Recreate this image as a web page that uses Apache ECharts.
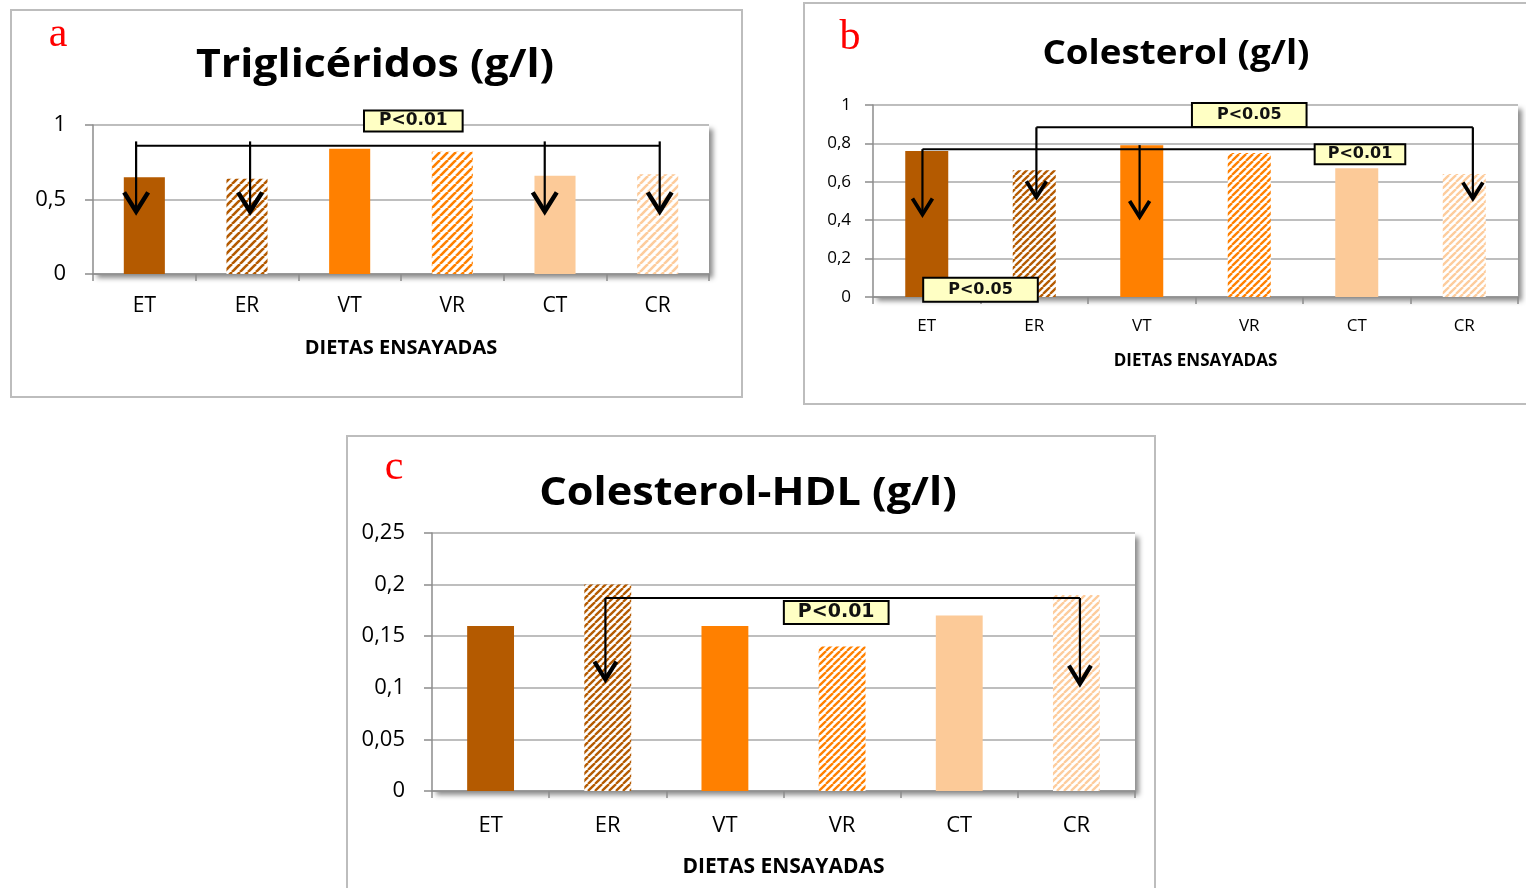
<!DOCTYPE html>
<html>
<head>
<meta charset="utf-8">
<script src="https://cdn.jsdelivr.net/npm/echarts@6/dist/echarts.min.js"></script>
<style>
html, body { margin: 0; padding: 0; background: #fff; }
#main { width: 1526px; height: 888px; }
</style>
</head>
<body>
<div id="main"></div>
<script>
// datos
var categories = ['ET', 'ER', 'VT', 'VR', 'CT', 'CR'];
var trigliceridos = [0.65, 0.64, 0.84, 0.82, 0.66, 0.67];
var colesterol = [0.76, 0.66, 0.79, 0.75, 0.67, 0.64];
var colesterolHdl = [0.16, 0.20, 0.16, 0.14, 0.17, 0.19];
var xAxisName = 'DIETAS ENSAYADAS';

// anotaciones (posicion en indice de categoria / valor del eje)
var bracketsA = [{from: -0.08, to: 5.02, y: 0.86,
    arrows: [[-0.08, 0.89, 0.42], [1.03, 0.89, 0.42], [3.9, 0.89, 0.42], [5.02, 0.89, 0.42]]}];
var labelsA = [{text: 'P<0.01', at: 2.62, y: 1.027}];

var bracketsB = [
    {from: 1.02, to: 5.08, y: 0.884, arrows: [[1.02, 0.884, 0.52], [5.08, 0.884, 0.513]]},
    {from: -0.04, to: 3.61, y: 0.77, arrows: [[-0.04, 0.77, 0.43], [1.98, 0.791, 0.417]]}
];
var labelsB = [
    {text: 'P<0.05', at: 3.0, y: 0.948},
    {text: 'P<0.01', at: 4.03, y: 0.744},
    {text: 'P<0.05', at: 0.5, y: 0.038}
];

var bracketsC = [{from: 0.98, to: 5.03, y: 0.187, arrows: [[0.98, 0.187, 0.108], [5.03, 0.187, 0.104]]}];
var labelsC = [{text: 'P<0.01', at: 2.95, y: 0.173}];

var cDark = '#b45a00', cMid = '#ff8000', cLight = '#fcca98';
var fontSans = '"Open Sans"';

function hatch(color, size, width) {
    var cv = document.createElement('canvas');
    cv.width = size;
    cv.height = size;
    var ctx = cv.getContext('2d');
    ctx.fillStyle = '#fff';
    ctx.fillRect(0, 0, size, size);
    ctx.strokeStyle = color;
    ctx.lineWidth = width;
    for (var k = -1; k <= 1; k++) {
        ctx.beginPath();
        ctx.moveTo(k * size, size);
        ctx.lineTo(k * size + size, 0);
        ctx.stroke();
    }
    return {image: cv, repeat: 'repeat'};
}

function fills(size, lw) {
    return [cDark, hatch(cDark, size, lw), cMid, hatch(cMid, size, lw), cLight, hatch('#fdcc9c', size, lw)];
}

function yFmt(v) {
    return String(+v.toFixed(2)).replace('.', ',');
}

function gridOpt(left, top, width, height) {
    return {
        left: left, top: top, width: width, height: height,
        show: true, backgroundColor: '#fff', borderWidth: 0,
        shadowColor: 'rgba(0,0,0,0.45)', shadowBlur: 5, shadowOffsetX: 4, shadowOffsetY: 4,
        outerBoundsMode: 'none'
    };
}

function xAxisOpt(idx, cfg) {
    return {
        type: 'category', gridIndex: idx, data: categories,
        name: xAxisName, nameLocation: 'middle', nameGap: cfg.nameGap,
        nameTextStyle: {fontFamily: fontSans, fontWeight: 'bold', fontSize: cfg.nameSize, color: '#000'},
        axisLine: {lineStyle: {color: '#8c8c8c', width: 1.5}},
        axisTick: {show: true, length: 7, lineStyle: {color: '#8c8c8c', width: 1.5}},
        axisLabel: {fontFamily: fontSans, fontSize: cfg.labelSize, color: '#000', margin: cfg.labelMargin}
    };
}

function yAxisOpt(idx, max, interval, cfg) {
    return {
        type: 'value', gridIndex: idx, min: 0, max: max, interval: interval,
        axisLine: {show: true, lineStyle: {color: '#8c8c8c', width: 1.5}},
        axisTick: {show: true, length: 8, lineStyle: {color: '#8c8c8c', width: 1.5}},
        splitLine: {show: true, lineStyle: {color: '#a8a8a8', width: 1.5}},
        axisLabel: {formatter: yFmt, fontFamily: fontSans, fontSize: cfg.labelSize, color: '#000', margin: cfg.labelMargin}
    };
}

function barSeries(idx, values, size, lw) {
    var f = fills(size, lw);
    return {
        type: 'bar', xAxisIndex: idx, yAxisIndex: idx, barWidth: '40%',
        data: values.map(function (v, i) {
            return {value: v, itemStyle: {color: f[i]}};
        })
    };
}

/**
 * flechas y recuadros de significancia
 */
function bracketSeries(idx, brackets, labels, head, font) {
    return {
        type: 'custom', xAxisIndex: idx, yAxisIndex: idx, data: [0], z: 10, silent: true, clip: false,
        renderItem: function (params, api) {
            var x0 = api.coord([0, 0])[0];
            var band = api.size([1, 0])[0];
            function px(i) { return x0 + i * band; }
            function py(v) { return api.coord([0, v])[1]; }
            var children = [];
            brackets.forEach(function (b) {
                children.push({type: 'line', shape: {x1: px(b.from), y1: py(b.y), x2: px(b.to), y2: py(b.y)},
                    style: {stroke: '#000', lineWidth: 2}});
                b.arrows.forEach(function (a) {
                    var x = px(a[0]), yt = py(a[1]), yb = py(a[2]);
                    children.push({type: 'line', shape: {x1: x, y1: yt, x2: x, y2: yb},
                        style: {stroke: '#000', lineWidth: 2.2}});
                    children.push({type: 'polyline',
                        shape: {points: [[x - head.w, yb - head.h], [x, yb], [x + head.w, yb - head.h]]},
                        style: {stroke: '#000', lineWidth: head.lw, fill: null, lineJoin: 'miter'}});
                });
            });
            labels.forEach(function (l, i) {
                children.push({type: 'text', x: px(l.at), y: py(l.y), z2: 20,
                    style: {text: l.text, font: 'bold ' + font.size + 'px "DejaVu Sans"', fill: '#111',
                        align: 'center', verticalAlign: 'middle', backgroundColor: '#ffffc4',
                        borderColor: '#000', borderWidth: 2, padding: font.pads[i]}});
            });
            return {type: 'group', children: children};
        }
    };
}

function txt(x, y, text, font, color, sx) {
    return {type: 'text', x: x, y: y, scaleX: sx || 1,
        style: {text: text, font: font, fill: color, align: 'center', verticalAlign: 'middle'}};
}

function frame(x, y, w, h) {
    return {type: 'rect', shape: {x: x, y: y, width: w, height: h}, z: -1,
        style: {fill: null, stroke: '#bdbdbd', lineWidth: 2}};
}

var myChart = echarts.init(document.getElementById('main'));
var option = {
    animation: false,
    backgroundColor: '#fff',
    graphic: [
        frame(11, 10, 731, 387),
        frame(804, 3, 730, 401),
        frame(347, 436, 808, 460),
        txt(58, 35, 'a', '42px "Liberation Serif"', '#ff0000'),
        txt(850, 38, 'b', '42px "Liberation Serif"', '#ff0000'),
        txt(394, 468, 'c', '42px "Liberation Serif"', '#ff0000'),
        txt(375, 66, 'Triglicéridos (g/l)', 'bold 39px ' + fontSans, '#000', 1.1),
        txt(1176, 54, 'Colesterol (g/l)', 'bold 34px ' + fontSans, '#000', 1.08),
        txt(748, 494, 'Colesterol-HDL (g/l)', 'bold 40px ' + fontSans, '#000', 1.08)
    ],
    grid: [
        gridOpt(93, 125, 616, 149),
        gridOpt(873, 105, 645, 192),
        gridOpt(432, 533, 703, 258)
    ],
    xAxis: [
        xAxisOpt(0, {nameGap: 64, nameSize: 20, labelSize: 21, labelMargin: 22}),
        xAxisOpt(1, {nameGap: 56, nameSize: 17, labelSize: 17, labelMargin: 21}),
        xAxisOpt(2, {nameGap: 66, nameSize: 21, labelSize: 22, labelMargin: 24})
    ],
    yAxis: [
        yAxisOpt(0, 1, 0.5, {labelSize: 22, labelMargin: 27}),
        yAxisOpt(1, 1, 0.2, {labelSize: 17, labelMargin: 22}),
        yAxisOpt(2, 0.25, 0.05, {labelSize: 22, labelMargin: 27})
    ],
    series: [
        barSeries(0, trigliceridos, 8, 2.6),
        barSeries(1, colesterol, 7, 2.3),
        barSeries(2, colesterolHdl, 7, 2.3),
        bracketSeries(0, bracketsA, labelsA, {w: 12, h: 19, lw: 4.5}, {size: 17, pads: [[1, 14]]}),
        bracketSeries(1, bracketsB, labelsB, {w: 10, h: 16, lw: 3.8},
            {size: 16, pads: [[3, 24], [1, 12], [3, 24]]}),
        bracketSeries(2, bracketsC, labelsC, {w: 11, h: 18, lw: 4.2}, {size: 19, pads: [[1, 13]]})
    ]
};
myChart.setOption(option);
</script>
</body>
</html>
